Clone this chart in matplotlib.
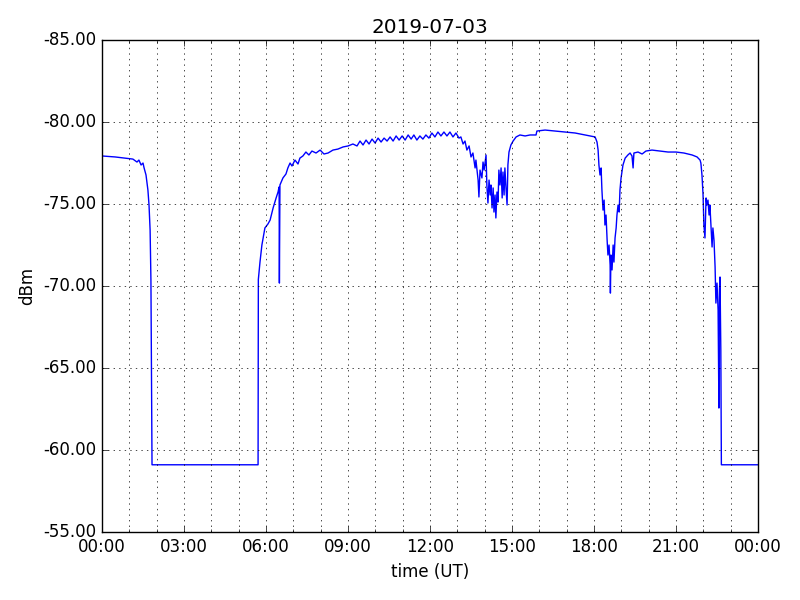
import numpy as np
import matplotlib
matplotlib.use("Agg")
import matplotlib.pyplot as plt
from matplotlib.ticker import MultipleLocator, FormatStrFormatter

plt.style.use('classic')

# signal level, time in hours (UT)
hours = [0.00, 0.48, 0.84, 1.13, 1.28, 1.35, 1.43, 1.50, 1.54, 1.61, 1.68, 1.72, 1.76, 1.79, 1.83,
         5.71, 5.72, 5.78, 5.85, 5.96, 6.07, 6.15, 6.26, 6.37, 6.44, 6.48, 6.49, 6.51, 6.62, 6.73,
         6.80, 6.88, 6.95, 7.06, 7.17, 7.24, 7.35, 7.46, 7.57, 7.68, 7.83, 7.98, 8.12, 8.27, 8.45,
         8.63, 8.82, 9.00, 9.18, 9.33, 9.44, 9.55, 9.66, 9.77, 9.88, 9.99, 10.10, 10.21, 10.32,
         10.43, 10.54, 10.65, 10.76, 10.87, 10.98, 11.09, 11.20, 11.31, 11.41, 11.52, 11.63, 11.74,
         11.85, 11.96, 12.07, 12.18, 12.29, 12.40, 12.51, 12.62, 12.73, 12.84, 12.95, 13.06, 13.13,
         13.21, 13.28, 13.35, 13.43, 13.50, 13.57, 13.65, 13.68, 13.76, 13.79, 13.83, 13.90, 13.94,
         13.98, 14.05, 14.08, 14.12, 14.16, 14.20, 14.23, 14.27, 14.31, 14.34, 14.38, 14.41, 14.45,
         14.49, 14.52, 14.56, 14.60, 14.64, 14.67, 14.71, 14.74, 14.78, 14.82, 14.85, 14.89, 14.96,
         15.04, 15.15, 15.29, 15.48, 15.66, 15.88, 15.91, 16.21, 16.57, 16.94, 17.31, 17.67, 18.04,
         18.11, 18.15, 18.18, 18.22, 18.26, 18.29, 18.33, 18.37, 18.40, 18.44, 18.48, 18.51, 18.55,
         18.59, 18.60, 18.62, 18.66, 18.70, 18.73, 18.77, 18.81, 18.84, 18.88, 18.92, 18.95, 18.99,
         19.06, 19.14, 19.24, 19.32, 19.39, 19.43, 19.46, 19.61, 19.76, 19.90, 20.12, 20.42, 20.71,
         21.00, 21.29, 21.59, 21.77, 21.88, 21.91, 21.95, 21.99, 22.02, 22.06, 22.10, 22.13, 22.17,
         22.21, 22.24, 22.28, 22.32, 22.35, 22.39, 22.43, 22.46, 22.50, 22.54, 22.57, 22.59, 22.61,
         22.64, 22.66, 24.00]
dbm = [-77.93, -77.87, -77.80, -77.74, -77.56, -77.68, -77.38, -77.50, -77.20, -76.77, -75.85,
       -74.94, -73.41, -70.37, -59.10,
       -59.10, -70.40, -71.46, -72.50, -73.54, -73.78, -74.02, -74.76, -75.37, -75.73, -76.04,
       -70.18, -76.16, -76.59, -76.83, -77.20, -77.50, -77.32, -77.68, -77.44, -77.80, -77.93,
       -78.17, -77.99, -78.23, -78.11, -78.29, -78.05, -78.11, -78.29, -78.35, -78.48, -78.54,
       -78.66, -78.54, -78.84, -78.60, -78.90, -78.66, -78.96, -78.72, -79.02, -78.78, -79.02,
       -78.84, -79.09, -78.84, -79.15, -78.90, -79.15, -78.90, -79.21, -78.96, -79.21, -78.90,
       -79.15, -78.96, -79.21, -79.02, -79.33, -79.09, -79.39, -79.15, -79.39, -79.15, -79.39,
       -79.09, -79.33, -79.02, -79.09, -78.66, -78.84, -78.29, -78.54, -77.87, -78.11, -77.20,
       -77.68, -76.46, -75.43, -77.07, -76.59, -77.56, -77.07, -77.99, -76.16, -75.06, -76.46,
       -75.55, -76.16, -74.76, -75.98, -74.51, -75.55, -74.15, -75.73, -75.12, -77.07, -76.16,
       -77.20, -75.37, -76.95, -75.55, -77.20, -75.98, -74.94, -77.38, -78.17, -78.60, -78.84,
       -79.09, -79.21, -79.15, -79.21, -79.21, -79.45, -79.51, -79.45, -79.39, -79.33, -79.21,
       -79.09, -78.78, -78.29, -77.38, -76.77, -77.20, -75.85, -74.63, -75.24, -73.72, -74.33,
       -72.80, -71.89, -72.50, -71.28, -69.57, -71.89, -70.98, -72.50, -71.46, -72.93, -73.54,
       -74.33, -74.94, -74.51, -75.85, -76.59, -77.38, -77.80, -77.99, -78.11, -77.93, -77.20,
       -78.11, -78.17, -78.05, -78.23, -78.29, -78.23, -78.17, -78.17, -78.11, -77.99, -77.87,
       -77.68, -77.50, -76.77, -75.55, -73.72, -72.93, -75.37, -74.94, -75.24, -74.33, -74.94,
       -73.72, -72.38, -73.54, -72.80, -71.16, -68.96, -70.18, -68.54, -62.56, -69.76, -70.55,
       -66.10, -59.10, -59.10]

xtick_hours = [0, 3, 6, 9, 12, 15, 18, 21, 24]
xtick_labels = ["00:00", "03:00", "06:00", "09:00", "12:00", "15:00", "18:00", "21:00", "00:00"]

fig = plt.figure(figsize=(8, 6), facecolor='white')
ax = fig.add_axes([0.1275, 0.1133, 0.82, 0.82])

ax.plot(hours, dbm, color='b', linewidth=1.0)

ax.set_xlim(0, 24)
ax.set_ylim(-55, -85)
ax.set_xticks(xtick_hours)
ax.set_xticklabels(xtick_labels)
ax.xaxis.set_minor_locator(MultipleLocator(1))
ax.yaxis.set_major_locator(MultipleLocator(5))
ax.yaxis.set_major_formatter(FormatStrFormatter('%.2f'))
ax.grid(True, which='major', axis='both')
ax.grid(True, which='minor', axis='x')

ax.set_title("2019-07-03")
ax.set_xlabel("time (UT)")
ax.set_ylabel("dBm")

fig.savefig("out.png", dpi=100, facecolor='white')
